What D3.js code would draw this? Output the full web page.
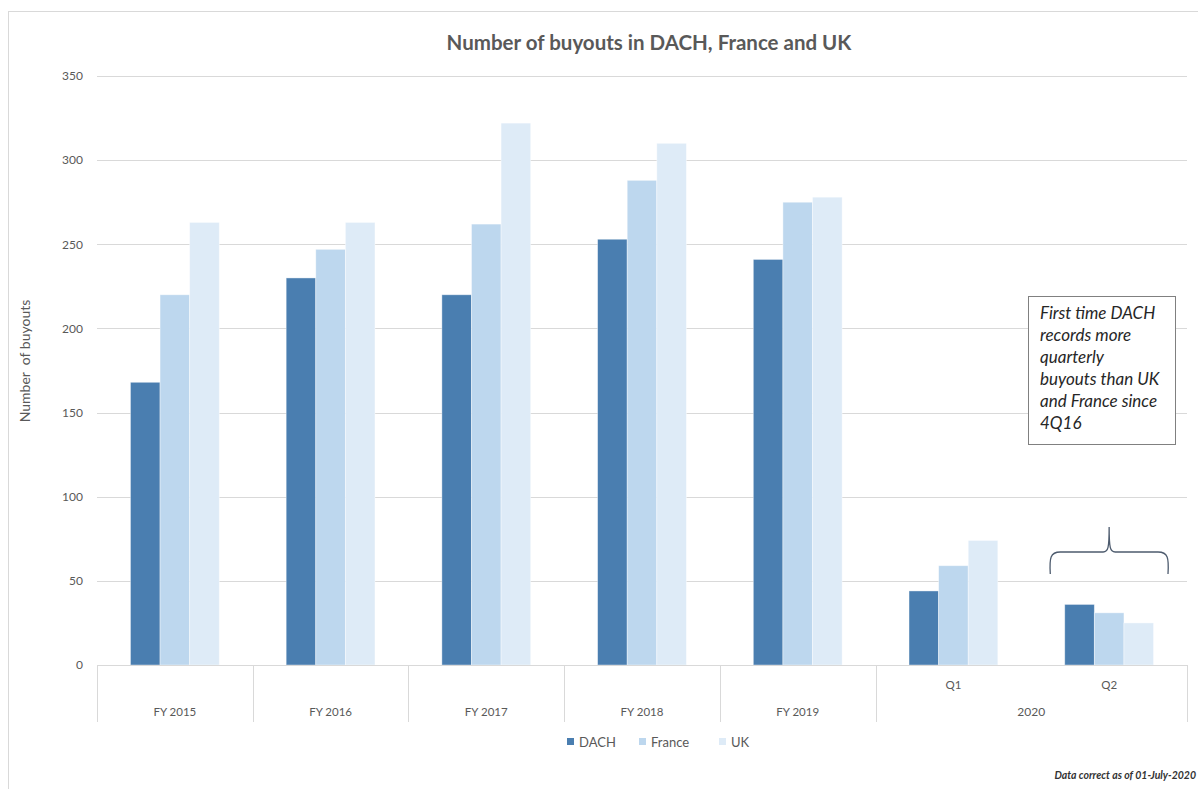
<!DOCTYPE html>
<html>
<head>
<meta charset="utf-8">
<script src="https://cdn.jsdelivr.net/npm/d3@7"></script>
<style>
  html, body { margin: 0; padding: 0; background: #ffffff; }
  svg { display: block; font-family: Lato, "Open Sans", sans-serif; }
</style>
</head>
<body>
<svg id="chart" width="1198" height="789"></svg>
<script>
// ---- data ----
const categories = ["FY 2015", "FY 2016", "FY 2017", "FY 2018", "FY 2019", "Q1", "Q2"];
const categoryGroups = ["", "", "", "", "", "2020", "2020"];
const seriesNames = ["DACH", "France", "UK"];
const dachValues = [168, 230, 220, 253, 241, 44, 36];
const franceValues = [220, 247, 262, 288, 275, 59, 31];
const ukValues = [263, 263, 322, 310, 278, 74, 25];
const yTickValues = [0, 50, 100, 150, 200, 250, 300, 350];
const seriesColors = ["#4a7eb0", "#bdd7ee", "#deebf7"];
const titleText = "Number of buyouts in DACH, France and UK";
const yAxisTitle = "Number  of buyouts";
const noteLines = ["First time DACH", "records more", "quarterly", "buyouts than UK", "and France since", "4Q16"];
const footnote = "Data correct as of 01-July-2020";

const seriesValues = [dachValues, franceValues, ukValues];
const rows = categories.map((c, i) => {
  const r = { category: c };
  seriesNames.forEach((s, j) => { r[s] = seriesValues[j][i]; });
  return r;
});

const svg = d3.select("#chart");

// outer chart border
svg.append("rect")
  .attr("x", 8.5).attr("y", 11.5)
  .attr("width", 1300).attr("height", 900)
  .attr("fill", "none").attr("stroke", "#d9d9d9").attr("stroke-width", 1);

const plot = { left: 97, right: 1187, top: 76, bottom: 665 };

const x = d3.scaleBand().domain(categories).range([plot.left, plot.right]).padding(0);
const xs = d3.scaleBand().domain(seriesNames).range([0, x.bandwidth()])
  .paddingInner(0).paddingOuter(1.13);
const y = d3.scaleLinear().domain([0, 350]).range([plot.bottom, plot.top]);

// gridlines
svg.append("g").selectAll("line")
  .data(yTickValues.filter(v => v > 0))
  .join("line")
  .attr("x1", plot.left).attr("x2", plot.right)
  .attr("y1", d => Math.round(y(d)) + 0.5).attr("y2", d => Math.round(y(d)) + 0.5)
  .attr("stroke", "#d9d9d9").attr("stroke-width", 1);

// y axis labels
const yAxis = d3.axisLeft(y).tickValues(yTickValues).tickSize(0).tickPadding(0);
const yg = svg.append("g").attr("transform", `translate(${plot.left - 14},0)`).call(yAxis);
yg.select(".domain").remove();
yg.selectAll("text")
  .attr("fill", "#595959").style("font-size", "12px")
  .style("font-family", "Lato, sans-serif");

// bars
svg.append("g").selectAll("g")
  .data(rows)
  .join("g")
  .attr("transform", d => `translate(${x(d.category)},0)`)
  .selectAll("rect")
  .data(d => seriesNames.map((s, j) => ({ s: s, j: j, v: d[s] })))
  .join("rect")
  .attr("x", d => xs(d.s))
  .attr("width", xs.bandwidth())
  .attr("y", d => y(d.v))
  .attr("height", d => y(0) - y(d.v))
  .attr("fill", d => seriesColors[d.j])
  .attr("stroke", "#ffffff").attr("stroke-opacity", 0.5).attr("stroke-width", 0.8);

// category axis
const axisG = svg.append("g");
axisG.append("line")
  .attr("x1", plot.left).attr("x2", plot.right)
  .attr("y1", plot.bottom + 0.5).attr("y2", plot.bottom + 0.5)
  .attr("stroke", "#d9d9d9");

// separators at group boundaries (not between members of the same parent group)
const sepPositions = [];
categories.forEach((c, i) => {
  if (i === 0 || categoryGroups[i] === "" || categoryGroups[i] !== categoryGroups[i - 1]) {
    sepPositions.push(x(c));
  }
});
sepPositions.push(plot.right);
axisG.selectAll("line.sep")
  .data(sepPositions)
  .join("line")
  .attr("class", "sep")
  .attr("x1", d => Math.round(d) + 0.5).attr("x2", d => Math.round(d) + 0.5)
  .attr("y1", plot.bottom).attr("y2", 722)
  .attr("stroke", "#d9d9d9");

// category labels
axisG.selectAll("text.cat")
  .data(categories)
  .join("text")
  .attr("class", "cat")
  .attr("x", d => x(d) + x.bandwidth() / 2)
  .attr("y", (d, i) => categoryGroups[i] === "" ? 716 : 689)
  .attr("text-anchor", "middle")
  .attr("fill", "#595959").style("font-size", "11.5px")
  .text(d => d);

// parent group labels
const parents = Array.from(new Set(categoryGroups.filter(g => g !== "")));
axisG.selectAll("text.grp")
  .data(parents)
  .join("text")
  .attr("class", "grp")
  .attr("x", g => {
    const members = categories.filter((c, i) => categoryGroups[i] === g);
    return (x(members[0]) + x(members[members.length - 1]) + x.bandwidth()) / 2;
  })
  .attr("y", 716)
  .attr("text-anchor", "middle")
  .attr("fill", "#595959").style("font-size", "12px")
  .text(g => g);

// title
svg.append("text")
  .attr("x", 649).attr("y", 50)
  .attr("text-anchor", "middle")
  .attr("fill", "#595959")
  .style("font-size", "20.5px").style("font-weight", "bold")
  .text(titleText);

// y axis title
svg.append("text")
  .attr("transform", "translate(30,361) rotate(-90)")
  .attr("text-anchor", "middle")
  .attr("fill", "#595959")
  .style("font-size", "14px")
  .style("white-space", "pre")
  .text(yAxisTitle);

// legend
const legendX = [567, 639, 719];
const lg = svg.append("g").selectAll("g")
  .data(seriesNames)
  .join("g")
  .attr("transform", (d, i) => `translate(${legendX[i]},738)`);
lg.append("rect").attr("width", 7).attr("height", 7).attr("fill", (d, i) => seriesColors[i]);
lg.append("text").attr("x", 12).attr("y", 8.5)
  .attr("fill", "#595959").style("font-size", "13px")
  .text(d => d);

// annotation box
svg.append("rect")
  .attr("x", 1028.5).attr("y", 296.5).attr("width", 147).attr("height", 148)
  .attr("fill", "#ffffff").attr("stroke", "#808080").attr("stroke-width", 1);
svg.append("text")
  .attr("fill", "#262626")
  .style("font-size", "17px").style("font-style", "italic")
  .selectAll("tspan")
  .data(noteLines)
  .join("tspan")
  .attr("x", 1040)
  .attr("y", (d, i) => 319 + i * 22)
  .text(d => d);

// brace over Q2 2020 group
const bx0 = x("Q2") + 19, bx1 = x("Q2") + x.bandwidth() - 19;
const bm = (bx0 + bx1) / 2;
const byB = 574, byH = 552, byT = 527;
svg.append("path")
  .attr("d", `M${bx0},${byB} C${bx0 - 1},${byH + 6} ${bx0},${byH} ${bx0 + 10},${byH}
              L${bm - 6},${byH} C${bm - 1},${byH} ${bm},${byH - 4} ${bm},${byT}
              C${bm},${byH - 4} ${bm + 1},${byH} ${bm + 6},${byH}
              L${bx1 - 10},${byH} C${bx1},${byH} ${bx1 + 1},${byH + 6} ${bx1},${byB}`)
  .attr("fill", "none").attr("stroke", "#4d5b6e").attr("stroke-width", 1.3);

// footnote
svg.append("text")
  .attr("x", 1196).attr("y", 779)
  .attr("text-anchor", "end")
  .attr("fill", "#333333")
  .style("font-size", "10.5px").style("font-style", "italic").style("font-weight", "bold")
  .text(footnote);
</script>
</body>
</html>
